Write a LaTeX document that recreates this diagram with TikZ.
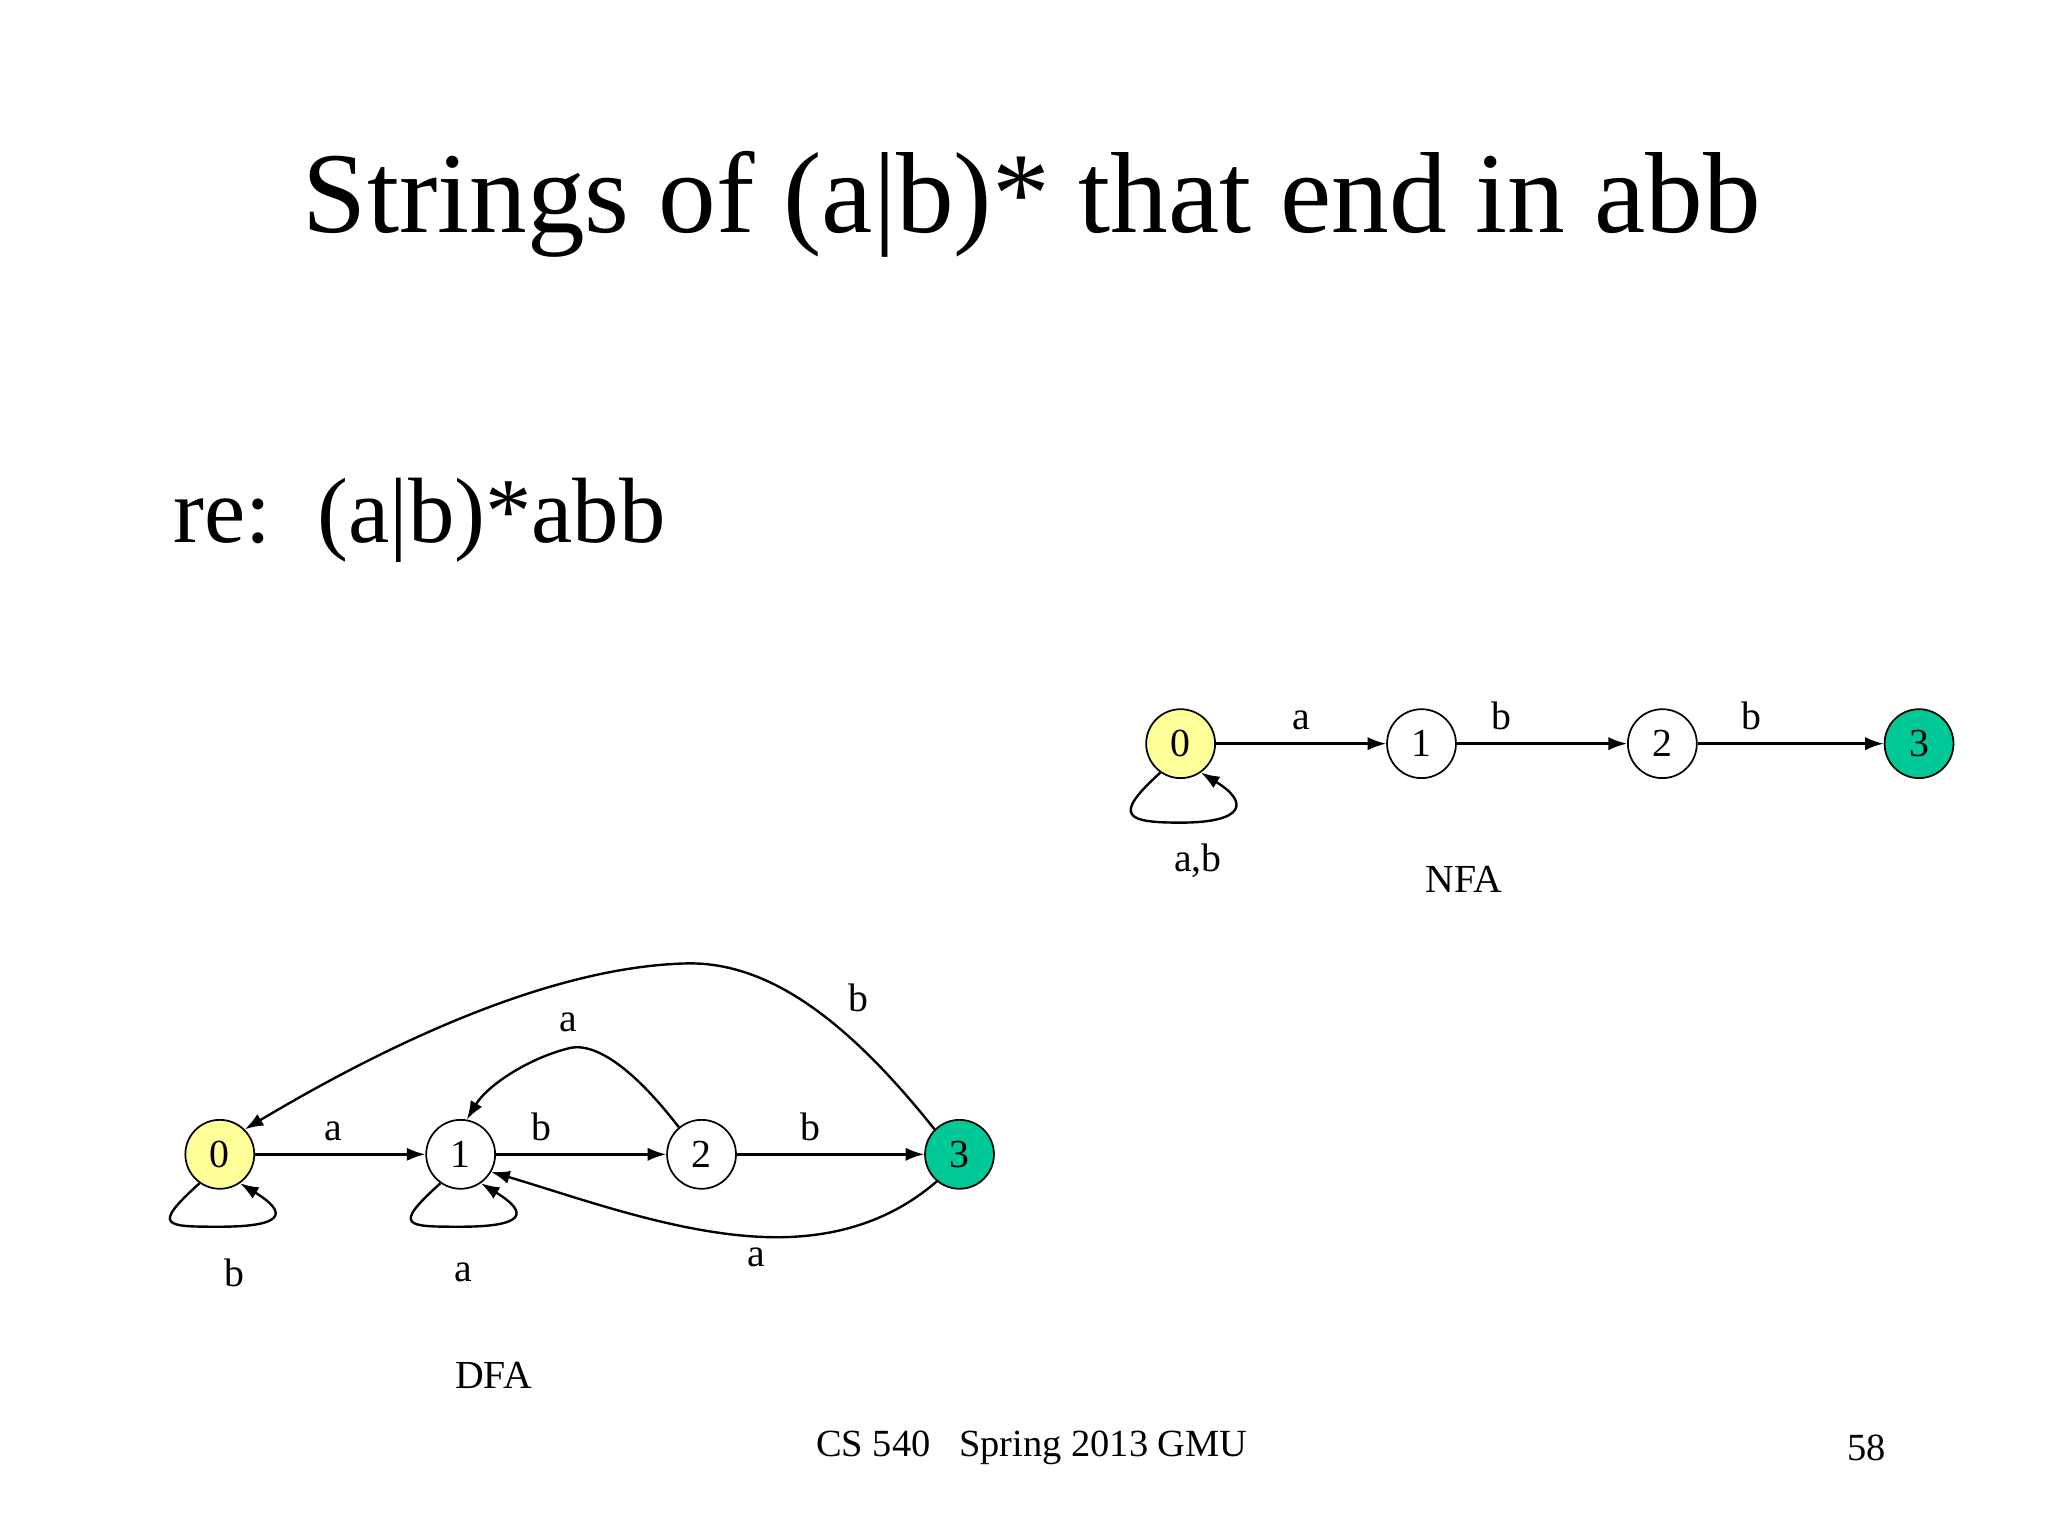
\documentclass[tikz,border=0pt]{standalone}
\usepackage{fontspec}
\setmainfont{Liberation Serif}
\usetikzlibrary{arrows.meta}
\definecolor{yel}{HTML}{FFFF99}
\definecolor{grn}{HTML}{00C896}
\begin{document}
\begin{tikzpicture}[x=0.993pt,y=-0.993pt,
  st/.style={circle,draw,line width=1.3pt,minimum size=52pt,inner sep=0pt,font=\fontsize{30}{30}\selectfont},
  lbl/.style={font=\fontsize{30}{30}\selectfont},
  ed/.style={line width=1.8pt,-{Latex[length=14pt,width=10pt]}}]
\useasboundingbox (0,0) rectangle (1556,1167);
\node[font=\fontsize{87}{87}\selectfont] (title) at (784,155) {Strings of (a|b)* that end in abb};
\node[font=\fontsize{70}{70}\selectfont,anchor=west] (re) at (128,395) {re:\ \ (a|b)*abb};
% NFA
\node[st,fill=yel] (n0) at (897,565) {0};
\node[st] (n1) at (1080,565) {1};
\node[st] (n2) at (1263,565) {2};
\node[st,fill=grn] (n3) at (1458,565) {3};
\draw[ed] (n0) -- node[lbl,above=6pt]{a} (n1);
\draw[ed] (n1) -- node[lbl,above=6pt,xshift=-5pt,pos=0.3]{b} (n2);
\draw[ed] (n2) -- node[lbl,above=6pt,xshift=-30pt]{b} (n3);
\draw[ed] (n0.235) .. controls (845,620) and (855,625) .. (897,625) .. controls (945,625) and (950,610) .. (n0.-55);
\node[lbl] (nl) at (910,654) {a,b};
\node[lbl] (nfa) at (1112,668) {NFA};
% DFA
\node[st,fill=yel] (d0) at (167,877) {0};
\node[st] (d1) at (350,877) {1};
\node[st] (d2) at (533,877) {2};
\node[st,fill=grn] (d3) at (729,877) {3};
\draw[ed] (d0) -- node[lbl,above=6pt,xshift=-5pt]{a} (d1);
\draw[ed] (d1) -- node[lbl,above=6pt,xshift=-30pt]{b} (d2);
\draw[ed] (d2) -- node[lbl,above=6pt,xshift=-15pt]{b} (d3);
\draw[ed] (d0.235) .. controls (115,932) and (125,932) .. (167,932) .. controls (215,932) and (220,922) .. (d0.-55);
\draw[ed] (d1.235) .. controls (298,932) and (308,932) .. (350,932) .. controls (398,932) and (403,922) .. (d1.-55);
\node[lbl] at (178,967) {b};
\node[lbl] at (352,967) {a};
\draw[ed] (d3.135) .. controls (640,770) and (580,730) .. (520,732) .. controls (420,735) and (300,790) .. (d0.45);
\node[lbl] at (652,758) {b};
\draw[ed] (d2.130) .. controls (480,810) and (450,790) .. (430,797) .. controls (400,805) and (370,825) .. (d1.80);
\node[lbl] at (432,777) {a};
\draw[ed] (d3.-130) .. controls (680,925) and (640,940) .. (590,940) .. controls (520,940) and (440,910) .. (d1.-30);
\node[lbl] at (575,955) {a};
\node[lbl] (dfa) at (375,1045) {DFA};
\node[font=\fontsize{29}{29}\selectfont] (foot) at (784,1100) {CS 540\ \ \ Spring 2013 GMU};
\node[font=\fontsize{29}{29}\selectfont] (pg) at (1418,1100) {58};
\end{tikzpicture}
\end{document}
